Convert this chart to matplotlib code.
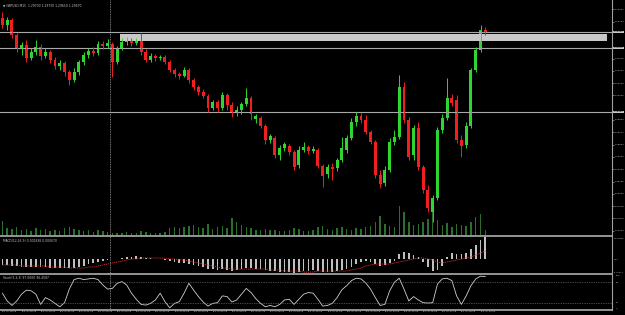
import matplotlib
matplotlib.use("Agg")
import matplotlib.pyplot as plt
import matplotlib.transforms as mtrans
from matplotlib.patches import Rectangle
from matplotlib.lines import Line2D
import numpy as np

# GBPUSD M15 candles
opens = [1.2982, 1.2975, 1.2980, 1.2965, 1.2952, 1.2955, 1.2942, 1.2948, 1.2953, 1.2944,
         1.2948, 1.2940, 1.2934, 1.2937, 1.2928, 1.2920, 1.2928, 1.2938, 1.2945, 1.2949,
         1.2947, 1.2956, 1.2954, 1.2956, 1.2938, 1.2952, 1.2958, 1.2960, 1.2957, 1.2959,
         1.2948, 1.2940, 1.2944, 1.2942, 1.2943, 1.2938, 1.2930, 1.2926, 1.2924, 1.2930,
         1.2920, 1.2913, 1.2908, 1.2904, 1.2892, 1.2898, 1.2892, 1.2905, 1.2895, 1.2888,
         1.2890, 1.2896, 1.2902, 1.2881, 1.2882, 1.2874, 1.2860, 1.2862, 1.2845, 1.2852,
         1.2854, 1.2848, 1.2835, 1.2850, 1.2853, 1.2849, 1.2850, 1.2834, 1.2826, 1.2833,
         1.2832, 1.2840, 1.2850, 1.2862, 1.2878, 1.2884, 1.2880, 1.2868, 1.2858, 1.2825,
         1.2817, 1.2830, 1.2858, 1.2863, 1.2913, 1.2880, 1.2845, 1.2872, 1.2833, 1.2810,
         1.2788, 1.2802, 1.2870, 1.2882, 1.2902, 1.2900, 1.2860, 1.2855, 1.2874, 1.2930,
         1.2950, 1.2970]
highs = [1.2988, 1.2983, 1.2982, 1.2967, 1.2958, 1.2960, 1.2952, 1.2960, 1.2956, 1.2952,
         1.2950, 1.2943, 1.2940, 1.2939, 1.2930, 1.2932, 1.2940, 1.2948, 1.2952, 1.2953,
         1.2959, 1.2959, 1.2961, 1.2958, 1.2954, 1.2962, 1.2963, 1.2962, 1.2962, 1.2967,
         1.2951, 1.2947, 1.2946, 1.2945, 1.2945, 1.2940, 1.2932, 1.2928, 1.2933, 1.2932,
         1.2922, 1.2915, 1.2911, 1.2906, 1.2900, 1.2900, 1.2908, 1.2907, 1.2898, 1.2894,
         1.2898, 1.2912, 1.2904, 1.2886, 1.2884, 1.2876, 1.2866, 1.2864, 1.2855, 1.2858,
         1.2856, 1.2850, 1.2854, 1.2858, 1.2855, 1.2854, 1.2852, 1.2836, 1.2836, 1.2837,
         1.2842, 1.2863, 1.2865, 1.2882, 1.2888, 1.2887, 1.2885, 1.2870, 1.2860, 1.2830,
         1.2834, 1.2862, 1.2870, 1.2925, 1.2918, 1.2883, 1.2875, 1.2878, 1.2835, 1.2815,
         1.2805, 1.2873, 1.2886, 1.2922, 1.2906, 1.2905, 1.2865, 1.2878, 1.2932, 1.2953,
         1.2975, 1.2973]
lows = [1.2972, 1.2970, 1.2962, 1.2948, 1.2945, 1.2938, 1.2940, 1.2945, 1.2940, 1.2942,
        1.2937, 1.2931, 1.2930, 1.2924, 1.2915, 1.2918, 1.2925, 1.2935, 1.2942, 1.2944,
        1.2945, 1.2951, 1.2952, 1.2923, 1.2936, 1.2950, 1.2955, 1.2954, 1.2955, 1.2945,
        1.2938, 1.2938, 1.2939, 1.2940, 1.2936, 1.2928, 1.2923, 1.2921, 1.2923, 1.2917,
        1.2910, 1.2905, 1.2902, 1.2888, 1.2890, 1.2888, 1.2890, 1.2890, 1.2883, 1.2884,
        1.2886, 1.2894, 1.2880, 1.2877, 1.2872, 1.2856, 1.2857, 1.2842, 1.2840, 1.2849,
        1.2845, 1.2830, 1.2832, 1.2848, 1.2846, 1.2847, 1.2832, 1.2813, 1.2822, 1.2820,
        1.2829, 1.2838, 1.2847, 1.2860, 1.2874, 1.2877, 1.2866, 1.2856, 1.2822, 1.2812,
        1.2814, 1.2828, 1.2855, 1.2861, 1.2877, 1.2840, 1.2840, 1.2830, 1.2807, 1.2788,
        1.2778, 1.2800, 1.2867, 1.2880, 1.2894, 1.2857, 1.2843, 1.2852, 1.2872, 1.2928,
        1.2948, 1.2965]
closes = [1.2975, 1.2980, 1.2965, 1.2952, 1.2955, 1.2942, 1.2948, 1.2953, 1.2944, 1.2948,
          1.2940, 1.2934, 1.2937, 1.2928, 1.2920, 1.2928, 1.2938, 1.2945, 1.2949, 1.2947,
          1.2956, 1.2954, 1.2957, 1.2938, 1.2952, 1.2958, 1.2960, 1.2957, 1.2959, 1.2948,
          1.2940, 1.2944, 1.2942, 1.2943, 1.2938, 1.2930, 1.2926, 1.2924, 1.2930, 1.2920,
          1.2913, 1.2908, 1.2904, 1.2892, 1.2898, 1.2892, 1.2905, 1.2895, 1.2888, 1.2890,
          1.2896, 1.2902, 1.2886, 1.2884, 1.2874, 1.2860, 1.2864, 1.2845, 1.2852, 1.2856,
          1.2848, 1.2833, 1.2850, 1.2853, 1.2849, 1.2851, 1.2834, 1.2824, 1.2833, 1.2831,
          1.2840, 1.2852, 1.2862, 1.2878, 1.2884, 1.2880, 1.2868, 1.2858, 1.2825, 1.2816,
          1.2830, 1.2858, 1.2863, 1.2913, 1.2880, 1.2843, 1.2872, 1.2833, 1.2810, 1.2792,
          1.2802, 1.2870, 1.2882, 1.2902, 1.2897, 1.2860, 1.2854, 1.2874, 1.2930, 1.2950,
          1.2970, 1.2967]
volumes = [1500, 800, 700, 900, 600, 700, 500, 800, 600, 700,
           500, 600, 500, 800, 900, 700, 600, 500, 600, 400,
           600, 500, 400, 300, 300, 300, 400, 300, 300, 500,
           400, 300, 300, 300, 400, 800, 900, 800, 900, 1000,
           1100, 900, 800, 1200, 700, 900, 1000, 800, 1800, 1400,
           1100, 900, 800, 600, 600, 700, 600, 600, 500, 500,
           600, 800, 700, 500, 500, 600, 900, 1000, 700, 600,
           800, 900, 700, 600, 800, 700, 900, 1000, 1400, 2000,
           1200, 1000, 900, 3000, 2400, 1400, 1100, 1200, 1400, 1700,
           2500, 1600, 1100, 1300, 900, 1200, 1100, 1000, 1400, 1900,
           2200, 600]

# MACD(12,26,9): main histogram and signal line
macd_main = [-0.00050, -0.00050, -0.00058, -0.00058, -0.00067, -0.00067, -0.00067, -0.00067, -0.00067, -0.00067,
             -0.00075, -0.00075, -0.00075, -0.00075, -0.00075, -0.00075, -0.00067, -0.00058, -0.00042, -0.00033,
             -0.00025, -0.00017, -0.00008, 0.00000, 0.00000, 0.00008, 0.00017, 0.00017, 0.00025, 0.00017,
             0.00008, 0.00008, 0.00000, 0.00000, -0.00008, -0.00017, -0.00025, -0.00033, -0.00033, -0.00042,
             -0.00050, -0.00058, -0.00067, -0.00084, -0.00084, -0.00092, -0.00084, -0.00092, -0.00100, -0.00092,
             -0.00084, -0.00075, -0.00075, -0.00084, -0.00084, -0.00092, -0.00100, -0.00100, -0.00109, -0.00109,
             -0.00109, -0.00117, -0.00109, -0.00100, -0.00100, -0.00092, -0.00100, -0.00109, -0.00109, -0.00109,
             -0.00100, -0.00092, -0.00084, -0.00067, -0.00042, -0.00025, -0.00017, -0.00025, -0.00042, -0.00058,
             -0.00050, -0.00033, -0.00017, 0.00042, 0.00058, 0.00050, 0.00033, 0.00017, -0.00025, -0.00067,
             -0.00100, -0.00092, -0.00058, 0.00017, 0.00050, 0.00042, 0.00042, 0.00050, 0.00084, 0.00117,
             0.00159, 0.00184]
macd_signal = [-0.00050, -0.00050, -0.00050, -0.00050, -0.00058, -0.00058, -0.00058, -0.00058, -0.00058, -0.00058,
               -0.00067, -0.00067, -0.00067, -0.00067, -0.00075, -0.00075, -0.00075, -0.00075, -0.00067, -0.00067,
               -0.00058, -0.00050, -0.00042, -0.00033, -0.00025, -0.00017, -0.00008, 0.00000, 0.00000, 0.00008,
               0.00008, 0.00008, 0.00008, 0.00008, 0.00008, 0.00000, 0.00000, -0.00008, -0.00008, -0.00017,
               -0.00025, -0.00033, -0.00042, -0.00050, -0.00058, -0.00067, -0.00075, -0.00075, -0.00084, -0.00084,
               -0.00084, -0.00084, -0.00084, -0.00084, -0.00084, -0.00084, -0.00092, -0.00092, -0.00092, -0.00100,
               -0.00100, -0.00100, -0.00100, -0.00109, -0.00109, -0.00109, -0.00100, -0.00100, -0.00100, -0.00100,
               -0.00100, -0.00100, -0.00100, -0.00092, -0.00084, -0.00075, -0.00058, -0.00050, -0.00042, -0.00042,
               -0.00042, -0.00042, -0.00033, -0.00025, -0.00017, -0.00008, 0.00000, 0.00008, 0.00008, 0.00000,
               -0.00008, -0.00025, -0.00033, -0.00025, -0.00017, -0.00008, 0.00000, 0.00008, 0.00017, 0.00033,
               0.00050, 0.00067]

# Stochastic(5,3,3) main line
stoch = [48, 25, 12, 25, 45, 57, 55, 45, 15, 35,
         28, 18, 8, 20, 60, 88, 92, 88, 90, 92,
         88, 72, 60, 62, 77, 82, 72, 48, 30, 15,
         13, 18, 28, 48, 23, 5, 18, 23, 48, 77,
         57, 38, 22, 10, 18, 20, 40, 38, 22, 28,
         45, 62, 50, 32, 18, 8, 12, 8, 15, 28,
         30, 15, 30, 45, 50, 48, 30, 10, 12, 18,
         35, 58, 70, 85, 92, 90, 78, 60, 35, 12,
         15, 55, 80, 92, 60, 25, 38, 28, 20, 19,
         20, 75, 90, 92, 85, 40, 15, 40, 70, 90,
         98, 97]

# horizontal objects drawn on the chart
level_lines = [1.2968, 1.2952, 1.2888]
zone_low, zone_high = 1.2959, 1.2966
zone_start = 24.5
separator_bar = 22.5

time_ticks = list(range(0, 101, 4))
time_labels = ["23 Jul 18:15", "23 Jul 19:15", "23 Jul 20:15", "23 Jul 21:15", "23 Jul 22:15",
               "23 Jul 23:15", "24 Jul 00:15", "24 Jul 01:15", "24 Jul 02:15", "24 Jul 03:15",
               "24 Jul 04:15", "24 Jul 05:15", "24 Jul 06:15", "24 Jul 07:15", "24 Jul 08:15",
               "24 Jul 09:15", "24 Jul 10:15", "24 Jul 11:15", "24 Jul 12:15", "24 Jul 13:15",
               "24 Jul 14:15", "24 Jul 15:15", "24 Jul 16:15", "24 Jul 17:15", "24 Jul 18:15",
               "24 Jul 19:15"]

UP, DOWN = "#2fd62f", "#f02020"
TXT = "#c4c4c4"
GRID = "#a8a8a8"
FS = 2.2      # header text
FS_AX = 1.7   # axis labels (tiny in the screenshot)

W, H = 625, 315
fig = plt.figure(figsize=(W / 100, H / 100), dpi=100, facecolor="black")


def px_axes(top, bottom, left=0, right=612):
    return fig.add_axes([left / W, 1 - bottom / H, (right - left) / W, (bottom - top) / H])


ax = px_axes(0, 236)
ax_macd = px_axes(236, 274)
ax_st = px_axes(274, 309.5)
axv = ax.twinx()

for a in (ax, ax_macd, ax_st, axv):
    a.set_facecolor("black")
    a.set_xlim(-0.5, 127.5)
    for s in a.spines.values():
        s.set_visible(False)
    a.tick_params(left=False, labelleft=False, bottom=False, labelbottom=False,
                  right=False, labelright=False)

bars = np.arange(len(opens))
o, h, l, c = map(np.asarray, (opens, highs, lows, closes))
colors = np.where(c >= o, UP, DOWN)

# volume underneath the candles
axv.bar(bars, volumes, width=0.3, color="#2c6e2c", linewidth=0)
axv.set_ylim(0, 23600)
ax.set_zorder(axv.get_zorder() + 1)
ax.patch.set_visible(False)

ax.vlines(bars, l, h, colors=colors, lw=0.7)
body = np.maximum(np.abs(c - o), 0.00006)
ax.bar(bars, body, bottom=np.minimum(o, c), width=0.62, color=colors, linewidth=0)
ax.set_ylim(1.2764, 1.3000)

for lv in level_lines:
    ax.axhline(lv, color=GRID, lw=0.8, zorder=1)
ax.add_patch(Rectangle((zone_start, zone_low), 127.5 - zone_start - 1.0, zone_high - zone_low,
                       facecolor="#c8c8c8", edgecolor="none", zorder=1))

# price scale on the right; skip ticks hidden behind the level labels
price_ticks = [1.29907 - k * 0.00123 for k in range(19)]
price_ticks = [t for t in price_ticks if min(abs(t - lv) for lv in level_lines) > 0.0005]
ax.yaxis.tick_right()
ax.set_yticks(price_ticks)
ax.set_yticklabels([f"{v:.5f}" for v in price_ticks])
ax.tick_params(axis="y", right=True, labelright=True, labelsize=FS_AX, colors=TXT,
               length=1.2, width=0.4, pad=0.6)
tr = mtrans.blended_transform_factory(ax.transAxes, ax.transData)
for lv in level_lines:
    ax.text(1.003, lv, f"{lv:.5f}", transform=tr, fontsize=FS_AX, color="black",
            va="center", ha="left", clip_on=False,
            bbox=dict(facecolor="#c8c8c8", edgecolor="none", pad=0.4))

ax.text(0.005, 0.985, "\u25bc GBPUSD,M15  1.29700 1.29730 1.29650 1.29670",
        transform=ax.transAxes, fontsize=FS, color=TXT, va="top", ha="left")

# MACD panel
ax_macd.bar(bars, macd_main, width=0.35, color="#c0c0c0", linewidth=0)
ax_macd.plot(bars, macd_signal, color="#e03030", lw=0.6, ls=(0, (1.5, 1)))
ax_macd.set_ylim(-0.00125, 0.00192)
ax_macd.text(0.005, 0.93, "MACD(12,26,9) 0.001838 0.000670", transform=ax_macd.transAxes,
             fontsize=FS, color=TXT, va="top", ha="left")
trm = mtrans.blended_transform_factory(ax_macd.transAxes, ax_macd.transData)
for v, s in [(0.00175, "0.001838"), (0.0, "0.00"), (-0.00110, "-0.00117")]:
    ax_macd.text(1.003, v, s, transform=trm, fontsize=FS_AX - 0.1, color=TXT, va="center",
                 ha="left", clip_on=False)

# Stochastic panel
ax_st.plot(bars, stoch, color="#d0d0d0", lw=0.6)
for lv in (80, 20):
    ax_st.axhline(lv, color="#8c8c8c", lw=0.5, ls=(0, (1, 1.5)))
ax_st.set_ylim(0, 104.4)
ax_st.text(0.005, 0.93, "Stoch(5,3,3) 97.0000 96.4587", transform=ax_st.transAxes,
           fontsize=FS, color=TXT, va="top", ha="left")
trs = mtrans.blended_transform_factory(ax_st.transAxes, ax_st.transData)
for v in (100, 80, 20, 0):
    ax_st.text(1.006, max(v, 4), str(v), transform=trs, fontsize=FS_AX, color=TXT,
               va="center", ha="left", clip_on=False)

ax_st.set_xticks(time_ticks)
ax_st.set_xticklabels(time_labels)
ax_st.tick_params(axis="x", bottom=True, labelbottom=True, labelsize=FS_AX, colors=TXT,
                  length=1.0, width=0.4, pad=0.3)
for lbl in ax_st.get_xticklabels():
    lbl.set_ha("left")

# day separator through all panels
for a in (ax, ax_macd, ax_st):
    a.axvline(separator_bar, color="#9a9a9a", lw=0.6, ls=(0, (1, 1)), zorder=0)

# panel frames
for y in (236, 274, 309.5):
    fig.add_artist(Line2D([0, 612 / W], [1 - y / H, 1 - y / H], color="#a0a0a0", lw=1.3))
fig.add_artist(Line2D([612 / W, 612 / W], [1 - 309.5 / H, 1], color="#a0a0a0", lw=0.8))

fig.savefig("out.png", dpi=100, facecolor="black")
